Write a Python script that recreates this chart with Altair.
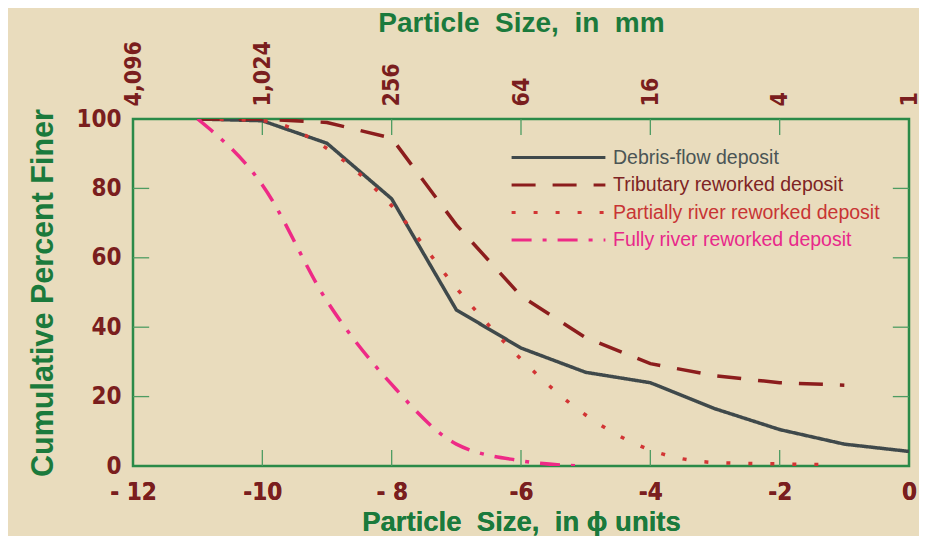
import altair as alt
import pandas as pd

# ---------------- data ----------------
series_names = [
    "Debris-flow deposit",
    "Tributary reworked deposit",
    "Partially river reworked deposit",
    "Fully river reworked deposit",
]
line_colors = ["#3f494b", "#8c1d1d", "#d23434", "#ee2a86"]
label_colors = ["#4b5555", "#7e2424", "#c83434", "#e8288a"]
dash_patterns = [[1, 0], [24, 17], [4, 18], [20, 11, 4, 11]]

debris_phi = [-11, -10, -9, -8, -7, -6, -5, -4, -3, -2, -1, 0]
debris_pct = [100, 99.5, 93, 77, 45, 34, 27, 24, 16.5, 10.5, 6.3, 4.2]

trib_phi = [-11, -10, -9, -8, -7, -6, -5, -4, -3, -2, -1]
trib_pct = [100, 100, 99, 94.5, 69.5, 49, 37, 29.5, 26, 24, 23.3]

partial_phi = [-11, -10, -9, -8, -7, -6, -5, -4, -3, -2, -1.4]
partial_pct = [100, 99.5, 91.5, 75, 51.3, 30.8, 14.7, 4.6, 1.0, 0.6, 0.4]

fully_phi = [-11, -10, -9, -8, -7, -6, -5.1]
fully_pct = [100, 81, 47.5, 23.5, 6.3, 1.5, 0]

phi_ticks = [-12, -10, -8, -6, -4, -2, 0]
phi_labels = ["- 12", "-10", "- 8", "-6", "-4", "-2", "0"]
mm_labels = ["4,096", "1,024", "256", "64", "16", "4", "1"]
pct_ticks = [0, 20, 40, 60, 80, 100]
inner_x_ticks = [-10, -8, -6, -4, -2]
inner_y_ticks = [20, 40, 60, 80]

# ---------------- tables ----------------
rows = []
for name, xs, ys in [
    (series_names[0], debris_phi, debris_pct),
    (series_names[1], trib_phi, trib_pct),
    (series_names[2], partial_phi, partial_pct),
    (series_names[3], fully_phi, fully_pct),
]:
    for i, (a, b) in enumerate(zip(xs, ys)):
        rows.append({"series": name, "phi": a, "pct": b, "order": i})
df = pd.DataFrame(rows)

tick_rows = []
for v in inner_x_ticks:
    tick_rows.append({"x": v, "x2": v, "y": 0, "y2": 4.6})
    tick_rows.append({"x": v, "x2": v, "y": 100, "y2": 95.4})
for v in inner_y_ticks:
    tick_rows.append({"x": -12, "x2": -11.75, "y": v, "y2": v})
    tick_rows.append({"x": 0, "x2": -0.25, "y": v, "y2": v})
ticks_df = pd.DataFrame(tick_rows)

# ---------------- style ----------------
TITLE_FONT = "Liberation Sans, Arial, sans-serif"
LABEL_FONT = "DejaVu Sans Condensed, DejaVu Sans, sans-serif"
DARK_RED = "#7a1e1e"
GREEN = "#1b7a3c"
TICK_GREEN = "#4e9c62"
NB = "\u00a0"


def expr_map(values, labels, default="datum.label"):
    e = default
    for v, l in reversed(list(zip(values, labels))):
        e = f"datum.value == {v} ? '{l}' : ({e})"
    return e


xscale = alt.Scale(domain=[-12, 0], nice=False, zero=False)
yscale = alt.Scale(domain=[0, 100], nice=False, zero=False)

lc = "'#333333'"
for n, c in reversed(list(zip(series_names, label_colors))):
    lc = f"datum.label == '{n}' ? '{c}' : ({lc})"

legend = alt.Legend(
    orient="none",
    legendX=377,
    legendY=28,
    title=None,
    symbolType="stroke",
    symbolSize=8800,
    symbolStrokeWidth=3,
    clipHeight=21,
    rowPadding=6.5,
    labelOffset=6,
    labelFont="Liberation Sans",
    labelFontSize=19.5,
    labelColor=alt.ExprRef(lc),
    labelLimit=400,
)

bottom_axis = alt.Axis(
    orient="bottom",
    values=phi_ticks,
    labelExpr=expr_map(phi_ticks, phi_labels),
    labelFlush=False,
    labelFont=LABEL_FONT,
    labelFontSize=24,
    labelFontWeight="bold",
    labelColor=DARK_RED,
    labelPadding=14,
    ticks=False,
    domain=False,
    grid=False,
    title=f"Particle{NB} Size,{NB} in \u03d5 units",
    titleFont=TITLE_FONT,
    titleFontSize=27.5,
    titleFontWeight="bold",
    titleColor=GREEN,
    titlePadding=4,
)

top_axis = alt.Axis(
    orient="top",
    values=phi_ticks,
    labelExpr=expr_map(phi_ticks, mm_labels),
    labelFlush=False,
    labelAngle=270,
    labelAlign="left",
    labelBaseline="middle",
    labelFont=LABEL_FONT,
    labelFontSize=23,
    labelFontWeight="bold",
    labelColor=DARK_RED,
    labelPadding=13,
    ticks=False,
    domain=False,
    grid=False,
    title=f"Particle{NB} Size,{NB} in{NB} mm",
    titleFont=TITLE_FONT,
    titleFontSize=28,
    titleFontWeight="bold",
    titleColor=GREEN,
    titlePadding=3,
)

y_axis = alt.Axis(
    values=pct_ticks,
    labelFont=LABEL_FONT,
    labelFontSize=24,
    labelFontWeight="bold",
    labelColor=DARK_RED,
    labelPadding=12,
    ticks=False,
    domain=False,
    grid=False,
    title="Cumulative Percent Finer",
    titleFont=TITLE_FONT,
    titleFontSize=30.5,
    titleFontWeight="bold",
    titleColor=GREEN,
    titlePadding=17,
)

color_enc = alt.Color("series:N", scale=alt.Scale(domain=series_names, range=line_colors), legend=legend, sort=series_names)
dash_enc = alt.StrokeDash("series:N", scale=alt.Scale(domain=series_names, range=dash_patterns), legend=legend, sort=series_names)

linear_lines = alt.Chart(df).transform_filter(
    alt.FieldOneOfPredicate(field="series", oneOf=series_names[:2])
).mark_line(strokeWidth=3.5, interpolate="linear", clip=True).encode(
    x=alt.X("phi:Q", scale=xscale, axis=bottom_axis),
    y=alt.Y("pct:Q", scale=yscale, axis=y_axis),
    color=color_enc,
    strokeDash=dash_enc,
    order="order:Q",
)

smooth_lines = alt.Chart(df).transform_filter(
    alt.FieldOneOfPredicate(field="series", oneOf=series_names[2:])
).mark_line(strokeWidth=3.5, interpolate="monotone", clip=True).encode(
    x=alt.X("phi:Q", scale=xscale, axis=bottom_axis),
    y=alt.Y("pct:Q", scale=yscale, axis=y_axis),
    color=color_enc,
    strokeDash=dash_enc,
    order="order:Q",
)

tick_rules = alt.Chart(ticks_df).mark_rule(color=TICK_GREEN, strokeWidth=1.3).encode(
    x=alt.X("x:Q", scale=xscale, axis=top_axis),
    x2="x2:Q",
    y=alt.Y("y:Q", scale=yscale, axis=y_axis),
    y2="y2:Q",
)

chart = alt.layer(tick_rules, linear_lines, smooth_lines).resolve_axis(
    x="independent"
).properties(
    width=776,
    height=347,
    autosize=alt.AutoSizeParams(type="none"),
    padding={"left": 125, "top": 111, "right": 10, "bottom": 70},
    background="#e9dcbd",
).configure_view(
    stroke="#2a8a48",
    strokeWidth=2.5,
)

chart.save("out.html", embed_options={"renderer": "svg", "actions": False})
